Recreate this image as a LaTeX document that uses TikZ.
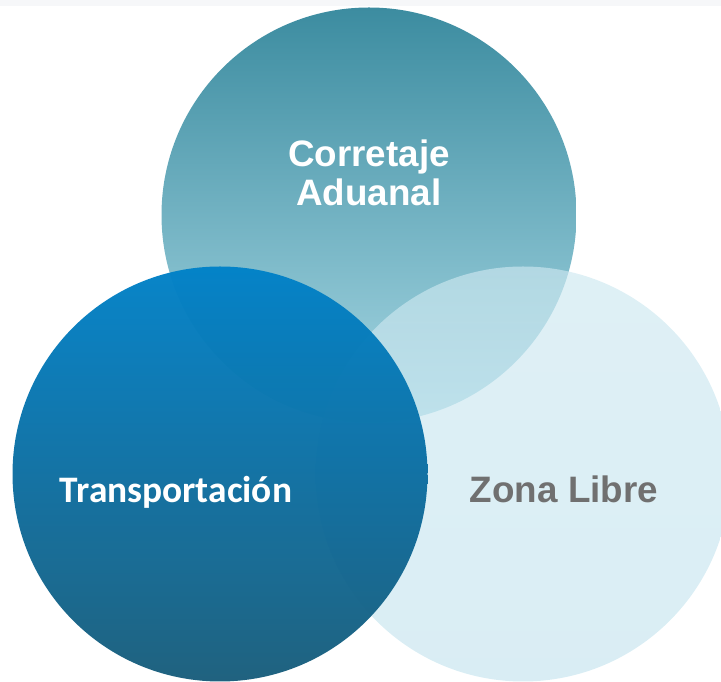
\documentclass[tikz,border=0pt]{standalone}
\usepackage{fontspec}
\setmainfont{Liberation Sans}
\newfontfamily\calfont{Carlito}
\definecolor{topdark}{RGB}{60,140,160}
\definecolor{toplight}{RGB}{168,216,228}
\definecolor{leftlight}{RGB}{2,130,200}
\definecolor{leftdark}{RGB}{27,94,124}
\definecolor{rightfill}{RGB}{197,228,238}
\definecolor{labelgray}{RGB}{112,112,112}
\definecolor{stripgray}{RGB}{246,247,249}
\tikzset{
  lbl/.style = {font=\bfseries\fontsize{36.8}{39}\selectfont,
                inner sep=0pt, outer sep=0pt, align=center}
}

\begin{document}
\begin{tikzpicture}[x=1pt, y=1pt]
	\def \r{207.5}
	\useasboundingbox (0,0) rectangle (721,682);
	\clip (0,0) rectangle (721,682);
	
	% Top strip
	\fill[stripgray] (0,676) rectangle (721,682);
	
	% Circles
	\shade[top color=topdark, bottom color=toplight] (369,467) circle (\r); % top
	\shade[top color=rightfill!85!white, bottom color=rightfill, opacity=0.65] (523,208) circle (\r); % right
	\shade[top color=leftlight, bottom color=leftdark, opacity=0.975] (220,208) circle (\r); % left
	
	% Labels
	\node[lbl, text=white] (corretaje) at (369,509) {Corretaje\\Aduanal};
	\node[lbl, text=white, anchor=base, font=\calfont\bfseries\fontsize{37.4}{39}\selectfont] (transporte) at (176,179) {Transportación};
	\node[lbl, text=labelgray, anchor=base] (zona) at (564,179) {Zona Libre};
	
\end{tikzpicture}
\end{document}
